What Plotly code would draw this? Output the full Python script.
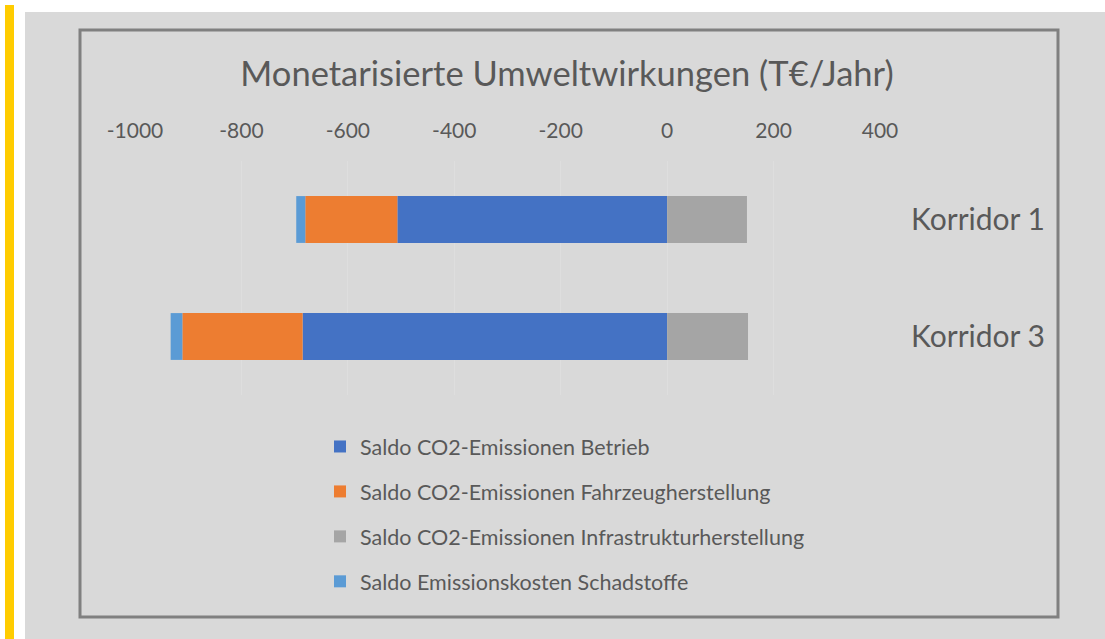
import plotly.graph_objects as go

categories = ["Korridor 1", "Korridor 3"]
series_names = [
    "Saldo CO2-Emissionen Betrieb",
    "Saldo CO2-Emissionen Fahrzeugherstellung",
    "Saldo CO2-Emissionen Infrastrukturherstellung",
    "Saldo Emissionskosten Schadstoffe",
]
betrieb = [-507, -685]
fahrzeug = [-173, -226]
infrastruktur = [150, 152]
schadstoffe = [-17, -22]
colors = ["#4472C4", "#ED7D31", "#A5A5A5", "#5B9BD5"]
tick_vals = [-1000, -800, -600, -400, -200, 0, 200, 400]
tick_text = ["-1000", "-800", "-600", "-400", "-200", "0", "200", "400"]
title_text = "Monetarisierte Umweltwirkungen (T€/Jahr)"

W, H = 1105, 639
L, R, T, B = 135, 880, 161, 395  # plot area in pixels

def px(x):
    return (x - L) / (R - L)

def py(y):
    return 1 - (y - T) / (B - T)

fig = go.Figure()
for name, vals, col in zip(series_names, [betrieb, fahrzeug, infrastruktur, schadstoffe], colors):
    fig.add_trace(go.Bar(
        y=categories, x=vals, name=name, orientation="h",
        marker=dict(color=col, line=dict(width=0)),
        legendgroup=name,
    ))

font_family = "Lato, Open Sans, sans-serif"
text_color = "#595959"

shapes = [
    dict(type="rect", xref="paper", yref="paper", x0=px(5), x1=px(14), y0=py(639), y1=py(5),
         fillcolor="#FFCC00", line=dict(width=0), layer="below"),
    dict(type="rect", xref="paper", yref="paper", x0=px(25), x1=px(1105), y0=py(639), y1=py(12),
         fillcolor="#D9D9D9", line=dict(width=0), layer="below"),
    dict(type="rect", xref="paper", yref="paper", x0=px(80), x1=px(1058), y0=py(617), y1=py(30),
         fillcolor="rgba(0,0,0,0)", line=dict(width=3, color="#808080"), layer="below"),
]

fig.update_layout(
    width=W, height=H,
    margin=dict(l=L, r=W - R, t=T, b=H - B, pad=0),
    paper_bgcolor="white",
    plot_bgcolor="rgba(0,0,0,0)",
    barmode="relative",
    bargap=0.6,
    shapes=shapes,
    font=dict(family=font_family, color=text_color),
    title=dict(text=title_text, x=px(567), xanchor="center", xref="paper",
               y=1 - 74 / H, yanchor="middle",
               font=dict(size=34.5, color=text_color, family=font_family)),
    xaxis=dict(
        side="top", range=[-1000, 400], tickvals=tick_vals, ticktext=tick_text,
        showgrid=True, gridcolor="#DEDEDE", gridwidth=1,
        zeroline=False, showline=False, ticks="",
        tickfont=dict(size=21, color=text_color),
        ticklabelstandoff=18,
    ),
    yaxis=dict(
        side="right", categoryorder="array", categoryarray=categories,
        autorange="reversed", showgrid=False, zeroline=False, showline=False,
        ticks="", tickfont=dict(size=30, color=text_color),
        ticklabelstandoff=30,
    ),
    legend=dict(
        orientation="v", traceorder="grouped", tracegroupgap=14,
        x=px(320), xanchor="left", y=py(426), yanchor="top",
        bgcolor="rgba(0,0,0,0)", borderwidth=0,
        font=dict(size=21.5, color=text_color),
    ),
    showlegend=True,
)

fig.write_html("out.html", config={"displayModeBar": False},
               post_script="document.body.style.margin='0px';")
